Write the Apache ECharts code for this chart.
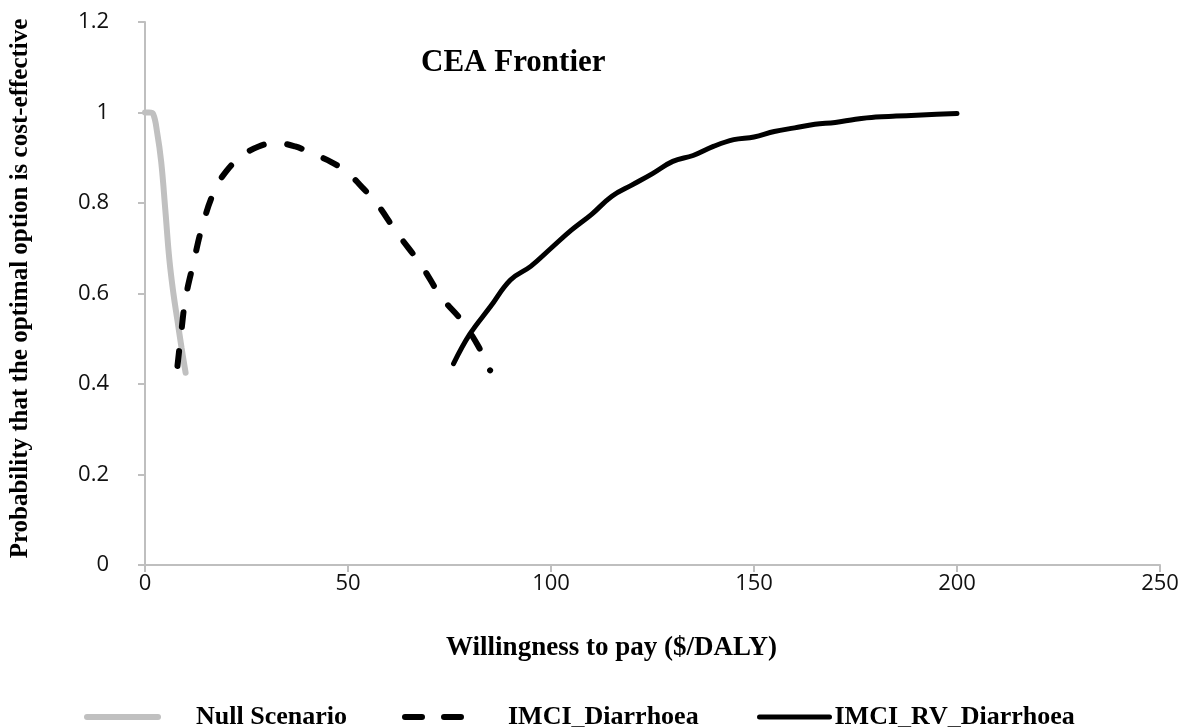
<!DOCTYPE html>
<html>
<head>
<meta charset="utf-8">
<script src="https://cdn.jsdelivr.net/npm/echarts@6/dist/echarts.min.js"></script>
<style>
  html, body { margin: 0; padding: 0; background: #fff; }
  #chart { width: 1201px; height: 727px; }
</style>
</head>
<body>
<div id="chart"></div>
<script>
// x ticks
const xTicks = [0, 50, 100, 150, 200, 250]
const yTicks = [0, 0.2, 0.4, 0.6, 0.8, 1, 1.2]

// series names
const seriesNames = ['Null Scenario', 'IMCI_Diarrhoea', 'IMCI_RV_Diarrhoea']

// Null Scenario (grey)
const nullX = [0, 1, 2, 3, 4, 5, 6, 7, 8, 9, 10]
const nullY = [1.0, 1.0, 0.997, 0.955, 0.89, 0.785, 0.675, 0.6, 0.54, 0.48, 0.425]

// IMCI_Diarrhoea (dashed)
const imciX = [8, 9, 10, 12, 14, 17, 20, 24, 28, 32, 37, 41, 46, 50, 54, 57, 62, 68, 73, 78, 82, 85]
const imciY = [0.44, 0.52, 0.59, 0.67, 0.745, 0.825, 0.87, 0.905, 0.925, 0.933, 0.925, 0.91, 0.89, 0.866, 0.83, 0.8, 0.735, 0.663, 0.592, 0.54, 0.485, 0.43]

// IMCI_RV_Diarrhoea (solid)
const rvX = [76, 80, 85, 90, 95, 100, 105, 110, 115, 120, 125, 130, 135, 140, 145, 150, 155, 160, 165, 170, 175, 180, 185, 190, 195, 200]
const rvY = [0.445, 0.51, 0.57, 0.63, 0.66, 0.70, 0.74, 0.775, 0.815, 0.84, 0.865, 0.892, 0.905, 0.925, 0.94, 0.946, 0.958, 0.966, 0.974, 0.978, 0.985, 0.99, 0.992, 0.994, 0.996, 0.998]

const pairs = (xs, ys) => xs.map((x, i) => [x, ys[i]])

let mycharts = echarts.init(document.getElementById('chart'))

const serifBold = {
  fontFamily: 'Liberation Serif',
  fontWeight: 'bold',
  color: '#000',
}

// one legend per series so every item sits where the reference has it
const legendItem = (name, left, width, textGap, lineStyle) => ({
  data: [name],
  left: left,
  top: 704,
  padding: 0,
  itemWidth: width,
  itemHeight: 22,
  itemStyle: { opacity: 0 }, // hide the circle, keep the line
  lineStyle: lineStyle,
  textStyle: Object.assign({ fontSize: 26, padding: [0, 0, 0, textGap] }, serifBold),
})

var option = {
  animation: false,
  title: {
    text: 'CEA Frontier',
    left: 421,
    top: 47,
    padding: 0,
    textStyle: Object.assign({ fontSize: 31 }, serifBold),
  },
  grid: {
    left: 145,
    right: 41,
    top: 22,
    bottom: 162,
    outerBoundsMode: 'none',
  },
  legend: [
    legendItem(seriesNames[0], 84, 71, 33, { width: 6, cap: 'round' }),
    legendItem(seriesNames[1], 402, 61, 37, { width: 6, type: [17, 22], cap: 'round' }),
    legendItem(seriesNames[2], 757, 70, 0, { width: 5, cap: 'round' }),
  ],
  xAxis: {
    type: 'value',
    min: xTicks[0],
    max: xTicks[xTicks.length - 1],
    interval: 50,
    name: 'Willingness to pay ($/DALY)',
    nameLocation: 'middle',
    nameGap: 70,
    // name sits left of the plot centre in the original
    nameTextStyle: Object.assign({ fontSize: 27, padding: [0, 82, 0, 0] }, serifBold),
    splitLine: { show: false },
    axisLine: { lineStyle: { color: '#bfbfbf', width: 2 } },
    axisTick: { show: true, length: 7, lineStyle: { color: '#bfbfbf', width: 2 } },
    axisLabel: {
      color: '#111',
      fontSize: 22,
      fontFamily: 'Open Sans',
      margin: 8,
    },
  },
  yAxis: {
    type: 'value',
    min: yTicks[0],
    max: yTicks[yTicks.length - 1],
    interval: 0.2,
    name: 'Probability that the optimal option is cost-effective',
    nameLocation: 'middle',
    nameGap: 112,
    nameRotate: 90,
    nameTextStyle: Object.assign({ fontSize: 25, padding: [0, 0, 0, 10] }, serifBold),
    splitLine: { show: false },
    axisLine: { show: true, lineStyle: { color: '#bfbfbf', width: 2 } },
    axisTick: { show: true, length: 7, lineStyle: { color: '#bfbfbf', width: 2 } },
    axisLabel: {
      color: '#111',
      fontSize: 22,
      fontFamily: 'Open Sans',
      margin: 36,
    },
  },
  series: [
    {
      name: seriesNames[0],
      type: 'line',
      smooth: 0.4,
      symbol: 'none',
      color: '#c0c0c0',
      lineStyle: { color: '#c0c0c0', width: 6, cap: 'round' },
      data: pairs(nullX, nullY),
    },
    {
      name: seriesNames[1],
      type: 'line',
      smooth: 0.4,
      symbol: 'none',
      color: '#000',
      lineStyle: { color: '#000', width: 6, type: [15, 24], cap: 'round' },
      data: pairs(imciX, imciY),
    },
    {
      name: seriesNames[2],
      type: 'line',
      smooth: 0.4,
      symbol: 'none',
      color: '#000',
      lineStyle: { color: '#000', width: 5, cap: 'round' },
      data: pairs(rvX, rvY),
    },
  ],
}

mycharts.setOption(option)
</script>
</body>
</html>
